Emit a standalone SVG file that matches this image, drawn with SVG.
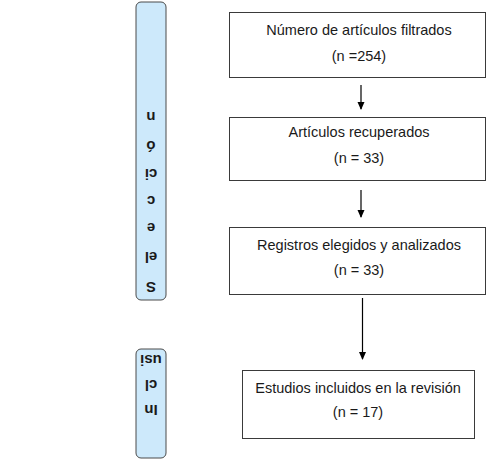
<svg xmlns="http://www.w3.org/2000/svg" width="492" height="460" viewBox="0 0 492 460">
<style>
.box{fill:#ffffff;stroke:#3a3a3a;stroke-width:1}
.side{fill:#cde9fb;stroke:#4a4a4a;stroke-width:1}
.t{font-family:"Liberation Sans",Arial,sans-serif;font-size:14.5px;fill:#1a1a1a;text-anchor:middle}
.r{font-family:"Liberation Sans",Arial,sans-serif;font-size:15px;font-weight:bold;fill:#1a1a1a;text-anchor:middle}
.c{stroke:#000;stroke-width:1.2;fill:none}
</style>
<defs>
<marker id="ah" markerWidth="8" markerHeight="8" refX="7" refY="4" orient="auto" markerUnits="userSpaceOnUse">
<path d="M0,0.5 L8,4 L0,7.5 Z" fill="#000"/>
</marker>
</defs>
<rect width="492" height="460" fill="#ffffff"/>
<g id="seleccion">
<rect class="side" x="136" y="2" width="30" height="298" rx="5"/>
<text class="r" x="151" y="122" transform="rotate(180 151 117)">n</text>
<text class="r" x="151" y="151" transform="rotate(180 151 146)">ó</text>
<text class="r" x="151" y="179" transform="rotate(180 151 174)">ci</text>
<text class="r" x="151" y="206" transform="rotate(180 151 201)">c</text>
<text class="r" x="151" y="233" transform="rotate(180 151 228)">e</text>
<text class="r" x="151" y="262" transform="rotate(180 151 257)">el</text>
<text class="r" x="151" y="292" transform="rotate(180 151 287)">S</text>
</g>
<g id="inclusion">
<rect class="side" x="136" y="349" width="30" height="109" rx="5"/>
<text class="r" x="151" y="365" transform="rotate(180 151 360)">usi</text>
<text class="r" x="151" y="390" transform="rotate(180 151 385)">cl</text>
<text class="r" x="151" y="415" transform="rotate(180 151 410)">In</text>
</g>
<g id="n1">
<rect class="box" x="229.5" y="12.5" width="256" height="65"/>
<text class="t" x="359" y="35">Número de artículos filtrados</text>
<text class="t" x="359" y="61">(n =254)</text>
</g>
<g id="n2">
<rect class="box" x="229.5" y="117.5" width="256" height="63"/>
<text class="t" x="359" y="137">Artículos recuperados</text>
<text class="t" x="359" y="163">(n = 33)</text>
</g>
<g id="n3">
<rect class="box" x="229.5" y="227.5" width="256" height="67"/>
<text class="t" x="359" y="250">Registros elegidos y analizados</text>
<text class="t" x="359" y="275">(n = 33)</text>
</g>
<g id="n4">
<rect class="box" x="242.5" y="370.5" width="232" height="68"/>
<text class="t" x="358" y="393">Estudios incluidos en la revisión</text>
<text class="t" x="358" y="417">(n = 17)</text>
</g>
<g id="connectors">
<line class="c" x1="361" y1="85" x2="361" y2="109" marker-end="url(#ah)"/>
<line class="c" x1="361" y1="190" x2="361" y2="217" marker-end="url(#ah)"/>
<line class="c" x1="362.5" y1="298" x2="362.5" y2="359" marker-end="url(#ah)"/>
</g>
</svg>
